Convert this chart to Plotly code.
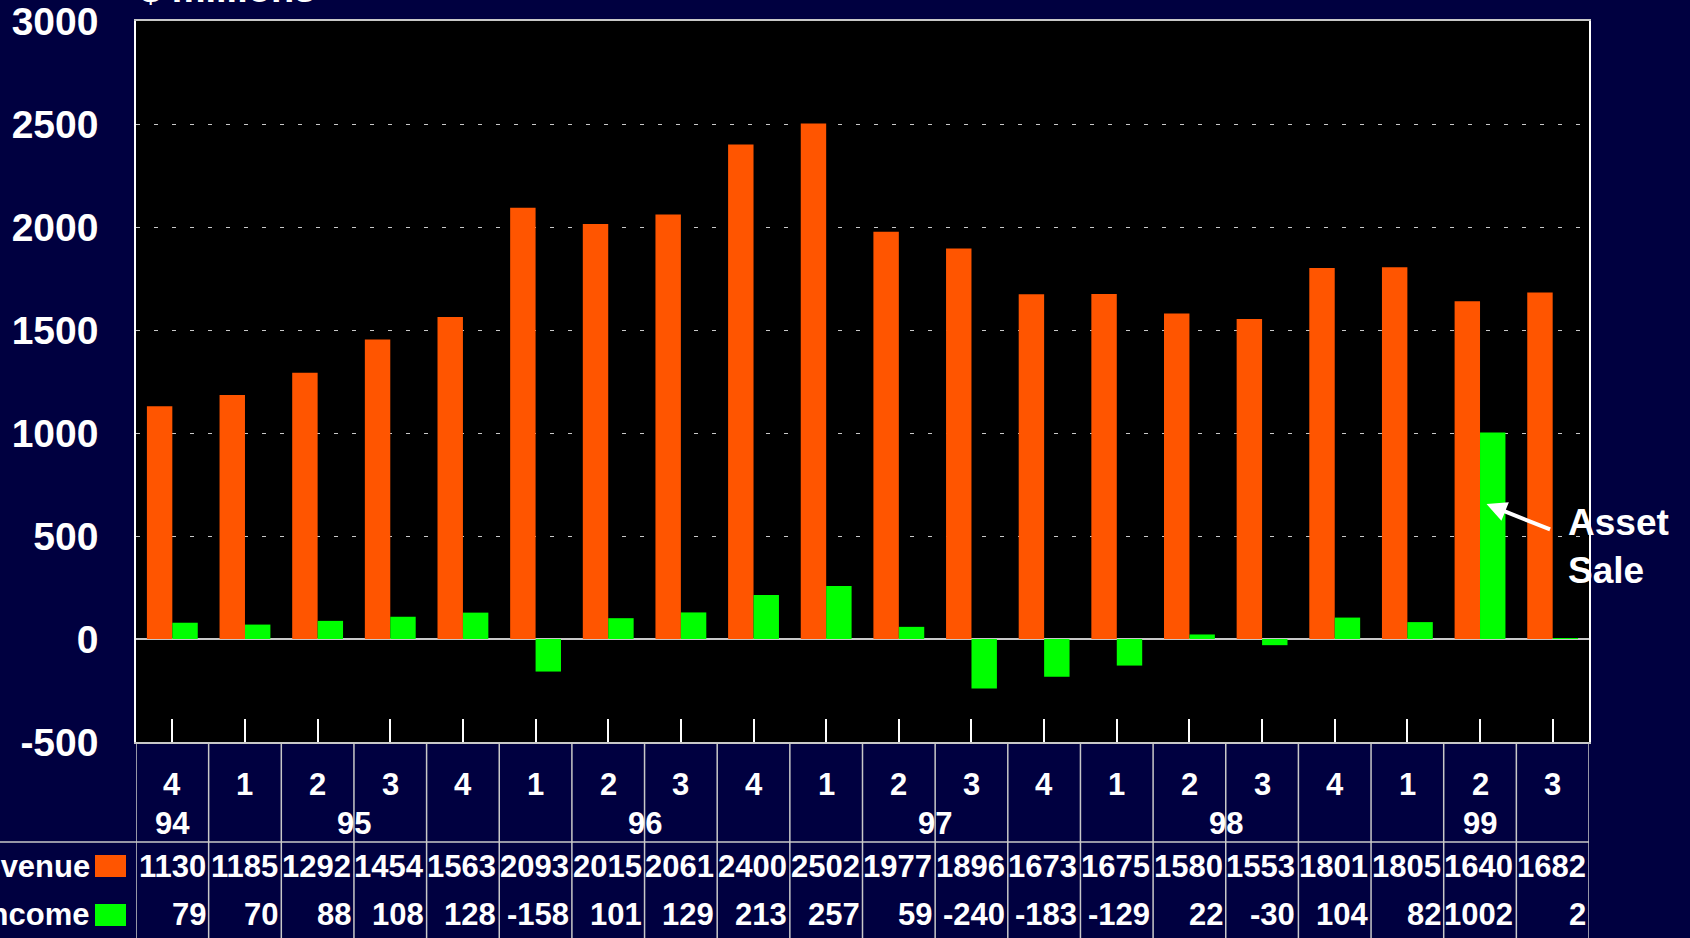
import plotly.graph_objects as go

# Quarterly revenue and net income, $ millions
quarters = ["4", "1", "2", "3", "4", "1", "2", "3", "4", "1",
            "2", "3", "4", "1", "2", "3", "4", "1", "2", "3"]
year_labels = ["94", "95", "96", "97", "98", "99"]
year_first_q = [0, 1, 5, 9, 13, 17]
year_last_q = [0, 4, 8, 12, 16, 19]
revenue = [1130, 1185, 1292, 1454, 1563, 2093, 2015, 2061, 2400, 2502,
           1977, 1896, 1673, 1675, 1580, 1553, 1801, 1805, 1640, 1682]
income = [79, 70, 88, 108, 128, -158, 101, 129, 213, 257,
          59, -240, -183, -129, 22, -30, 104, 82, 1002, 2]
series_names = ["Revenue", "Income"]
y_ticks = [-500, 0, 500, 1000, 1500, 2000, 2500, 3000]
y_tick_text = ["-500", "0", "500", "1000", "1500", "2000", "2500", "3000"]

ORANGE = "#FF5500"
GREEN = "#00FF00"
NAVY = "#000040"
LINE = "#c8c8c8"
FONT = "Liberation Sans, Arial, sans-serif"

W, H = 1690, 938
ML, MR, MT, MB = 136, 101, 21, 196
PW = W - ML - MR
PH = H - MT - MB


def px(xpix):
    return (xpix - ML) / PW


def py(ypix):
    return (H - MB - ypix) / PH


x = list(range(len(quarters)))

fig = go.Figure()
fig.add_trace(go.Bar(x=x, y=revenue, name=series_names[0],
                     marker=dict(color=ORANGE, line=dict(width=0))))
fig.add_trace(go.Bar(x=x, y=income, name=series_names[1],
                     marker=dict(color=GREEN, line=dict(width=0))))

shapes = []
annotations = []

# data table grid under the plot
for k in range(len(quarters) + 1):
    shapes.append(dict(type="line", xref="x", yref="paper",
                       x0=k - 0.5, x1=k - 0.5, y0=0, y1=py(H + 2),
                       line=dict(color=LINE, width=1.5)))
shapes.append(dict(type="line", xref="paper", yref="paper",
                   x0=px(0), x1=1, y0=py(842), y1=py(842),
                   line=dict(color=LINE, width=1.5)))

tfont = dict(family=FONT, size=31, color="white")

for i, q in enumerate(quarters):
    annotations.append(dict(xref="x", yref="paper", x=i, y=py(784),
                            text=f"<b>{q}</b>", showarrow=False,
                            xanchor="center", yanchor="middle", font=tfont))
for lab, a, b in zip(year_labels, year_first_q, year_last_q):
    annotations.append(dict(xref="x", yref="paper", x=(a + b) / 2, y=py(823),
                            text=f"<b>{lab}</b>", showarrow=False,
                            xanchor="center", yanchor="middle", font=tfont))
for row_y, vals in ((866, revenue), (915, income)):
    for i, v in enumerate(vals):
        annotations.append(dict(xref="x", yref="paper", x=i + 0.5, y=py(row_y),
                                text=f"<b>{v}</b>", showarrow=False,
                                xanchor="right", yanchor="middle", xshift=-1,
                                font=tfont))

# legend keys in the table's row headers
for name, col, row_y in ((series_names[0], ORANGE, 866), (series_names[1], GREEN, 915)):
    annotations.append(dict(xref="paper", yref="paper", x=px(92), y=py(row_y),
                            text=f"<b>{name}</b>", showarrow=False,
                            xanchor="right", yanchor="middle", font=tfont))
    shapes.append(dict(type="rect", xref="paper", yref="paper",
                       x0=px(95), x1=px(126), y0=py(row_y + 11), y1=py(row_y - 11),
                       fillcolor=col, line=dict(width=0)))

# units label at the top
annotations.append(dict(xref="paper", yref="paper", x=px(138), y=py(-11),
                        text="<b>$ millions</b>", showarrow=False,
                        xanchor="left", yanchor="middle",
                        font=dict(family=FONT, size=38, color="white")))

# asset sale callout
annotations.append(dict(xref="x", yref="y", x=18.09, y=655, text="",
                        showarrow=True, axref="pixel", ayref="pixel",
                        ax=65, ay=26, arrowhead=2, arrowsize=1,
                        arrowwidth=4, arrowcolor="white"))
annotations.append(dict(xref="paper", yref="paper", x=px(1566), y=py(546),
                        text="<b>Asset<br>Sale</b>", showarrow=False,
                        xanchor="left", yanchor="middle", align="left",
                        font=dict(family=FONT, size=37, color="white")))

fig.update_layout(
    width=W, height=H,
    margin=dict(l=ML, r=MR, t=MT, b=MB, pad=0, autoexpand=False),
    paper_bgcolor=NAVY, plot_bgcolor="black",
    barmode="group", bargap=0.3, bargroupgap=0,
    showlegend=False,
    shapes=shapes, annotations=annotations,
    xaxis=dict(range=[-0.5, len(quarters) - 0.5], tickvals=x,
               showticklabels=False, ticks="inside", ticklen=23,
               tickwidth=1.5, tickcolor="white", automargin=False,
               showgrid=False, zeroline=False,
               showline=True, linecolor=LINE, linewidth=1.5, mirror=True),
    yaxis=dict(range=[-500, 3000], tickvals=y_ticks, ticktext=y_tick_text,
               ticks="", ticklabelstandoff=28, automargin=False,
               ticklabeloverflow="allow",
               tickfont=dict(family=FONT, size=39, color="white", weight="bold"),
               showgrid=True, gridcolor=LINE, gridwidth=1.2, griddash="4px,14px",
               zeroline=True, zerolinecolor=LINE, zerolinewidth=1.5,
               showline=True, linecolor="white", linewidth=1.5, mirror=True),
)

fig.write_html("out.html")
